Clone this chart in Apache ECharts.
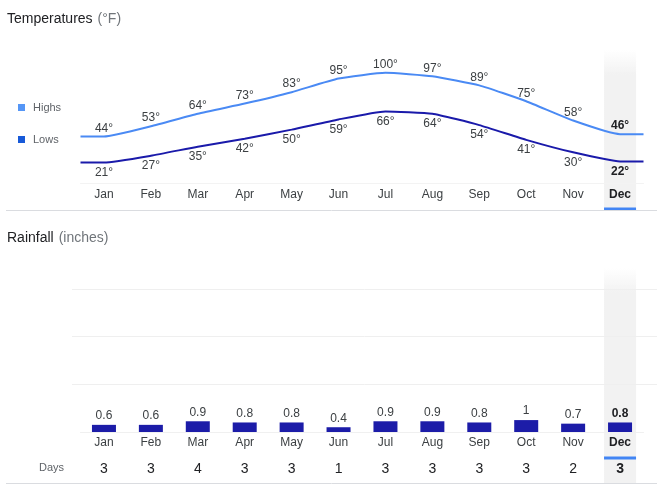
<!DOCTYPE html>
<html><head><meta charset="utf-8">
<script src="https://cdn.jsdelivr.net/npm/echarts@6/dist/echarts.min.js"></script>
<style>html,body{margin:0;padding:0;background:#fff}#c{width:665px;height:488px}</style>
</head><body><div id="c"></div>
<script>
const months = ['Jan','Feb','Mar','Apr','May','Jun','Jul','Aug','Sep','Oct','Nov','Dec'];
const highs = [44,53,64,73,83,95,100,97,89,75,58,46];
const lows = [21,27,35,42,50,59,66,64,54,41,30,22];
const rainfall = [0.6,0.6,0.9,0.8,0.8,0.4,0.9,0.9,0.8,1,0.7,0.8];
const rainDays = [3,3,4,3,3,1,3,3,3,3,2,3];
const selected = 11;

const FONT = '"Liberation Sans", Arial, sans-serif';
const HIGH_C = '#4a8af4', LOW_C = '#1a1aaa', BAR_C = '#1c1ca8';

function lineData(vals){
  const d = vals.map((v,i)=>({value:[i,v], label: i===selected?{fontWeight:'bold',color:'#202124'}:{}}));
  d.unshift({value:[-0.5, vals[0]], label:{show:false}});
  d.push({value:[11.5, vals[vals.length-1]], label:{show:false}});
  return d;
}
const catLabel = (v,i)=> i===selected ? '{b|'+v+'}' : v;
const titleRich = {a:{fontSize:14,color:'#202124',fontFamily:FONT,fontWeight:'normal'},b:{fontSize:14,color:'#70757a',fontFamily:FONT,fontWeight:'normal'}};

const chart = echarts.init(document.getElementById('c'));
const option = {
  animation:false,
  textStyle:{fontFamily:FONT},
  title:[
    {left:2, top:5, text:'{a|Temperatures} {b|(°F)}', textStyle:{fontWeight:'normal', rich:titleRich}},
    {left:2, top:224, text:'{a|Rainfall} {b|(inches)}', textStyle:{fontWeight:'normal', rich:titleRich}}
  ],
  legend:{
    orient:'vertical', left:13, top:97, itemWidth:7, itemHeight:7, itemGap:21, icon:'rect',
    textStyle:{color:'#5f6368', fontSize:11, fontFamily:FONT, padding:[0,0,0,3]},
    data:[{name:'Highs', itemStyle:{color:'#5596f6'}},{name:'Lows', itemStyle:{color:'#1759d8'}}],
    selectedMode:false
  },
  grid:[
    {left:80.5, right:21.5, top:61.5, height:121.5},
    {left:80.5, right:21.5, top:289, height:143},
    {left:72, right:8, top:289, height:143}
  ],
  xAxis:[
    {type:'category', gridIndex:0, data:months, boundaryGap:true,
     axisLine:{lineStyle:{color:'#f3f3f3'}}, axisTick:{show:false},
     axisLabel:{interval:0, margin:6, color:'#3c4043', fontSize:12, formatter:catLabel, rich:{b:{fontWeight:'bold',color:'#202124',fontSize:12}}}},
    {type:'value', gridIndex:0, min:-0.5, max:11.5, show:false},
    {type:'category', gridIndex:1, data:months, boundaryGap:true,
     axisLine:{lineStyle:{color:'#f0f0f0'}}, axisTick:{show:false},
     axisLabel:{interval:0, margin:5, color:'#3c4043', fontSize:12, formatter:catLabel, rich:{b:{fontWeight:'bold',color:'#202124',fontSize:12}}}},
    {type:'category', gridIndex:1, data:rainDays.map(String), position:'bottom', offset:25, boundaryGap:true,
     axisLine:{show:false}, axisTick:{show:false},
     axisLabel:{interval:0, margin:5, color:'#202124', fontSize:14, formatter:catLabel, rich:{b:{fontWeight:'bold',color:'#202124',fontSize:14}}}},
    {type:'value', gridIndex:2, min:0, max:1, show:false}
  ],
  yAxis:[
    {type:'value', gridIndex:0, min:3, max:110, show:false},
    {type:'value', gridIndex:1, min:0, max:12, interval:4, show:false},
    {type:'value', gridIndex:2, min:0, max:12, interval:4, axisLine:{show:false}, axisTick:{show:false}, axisLabel:{show:false},
     splitLine:{show:true, lineStyle:{color:['rgba(0,0,0,0)','#efefef','#efefef','#efefef'], width:1}}}
  ],
  series:[
    {name:'Highs', type:'line', xAxisIndex:1, yAxisIndex:0, data:lineData(highs), smooth:0.15, showSymbol:true, symbol:'circle', symbolSize:0.1,
     lineStyle:{color:HIGH_C, width:2}, itemStyle:{color:HIGH_C}, z:5,
     label:{show:true, position:'top', distance:2, formatter:p=>p.value[1]+'°', color:'#3c4043', fontSize:12, fontFamily:FONT}},
    {name:'Lows', type:'line', xAxisIndex:1, yAxisIndex:0, data:lineData(lows), smooth:0.15, showSymbol:true, symbol:'circle', symbolSize:0.1,
     lineStyle:{color:LOW_C, width:2}, itemStyle:{color:LOW_C}, z:5,
     label:{show:true, position:'bottom', distance:4, formatter:p=>p.value[1]+'°', color:'#3c4043', fontSize:12, fontFamily:FONT}},
    {name:'Rainfall', type:'bar', xAxisIndex:2, yAxisIndex:1, barWidth:24, z:5,
     data:rainfall.map((v,i)=>({value:v, label: i===selected?{fontWeight:'bold',color:'#202124'}:{}})),
     itemStyle:{color:BAR_C},
     label:{show:true, position:'top', distance:3, color:'#3c4043', fontSize:12, fontFamily:FONT}}
  ]
};
chart.setOption(option);

// decorations for the selected month, positioned from the axes
const xTop = chart.convertToPixel({xAxisIndex:0}, months[selected]);
const xBot = chart.convertToPixel({xAxisIndex:2}, months[selected]);
const bw = 32;
const fade = (y0,y1)=>({type:'linear',x:0,y:0,x2:0,y2:1,colorStops:[{offset:0,color:'rgba(242,242,242,0)'},{offset:Math.min(1,25/(y1-y0)),color:'rgba(242,242,242,1)'},{offset:1,color:'rgba(242,242,242,1)'}]});
chart.setOption({graphic:[
  {type:'rect', z:-10, shape:{x:xTop-bw/2, y:50, width:bw, height:160}, style:{fill:fade(50,210)}},
  {type:'rect', z:-10, shape:{x:xBot-bw/2, y:268, width:bw, height:215}, style:{fill:fade(268,483)}},
  {type:'rect', z:10, shape:{x:xTop-bw/2, y:207.5, width:bw, height:3}, style:{fill:'#4285f4'}},
  {type:'rect', z:10, shape:{x:xBot-bw/2, y:456.5, width:bw, height:3}, style:{fill:'#4285f4'}},
  {type:'line', z:10, shape:{x1:6, y1:210.5, x2:657, y2:210.5}, style:{stroke:'#dadce0', lineWidth:1}},
  {type:'line', z:10, shape:{x1:6, y1:483.5, x2:657, y2:483.5}, style:{stroke:'#dadce0', lineWidth:1}},
  {type:'text', z:10, left:39, top:462, style:{text:'Days', fontSize:11, fill:'#5f6368', fontFamily:FONT}}
]});
</script></body></html>
